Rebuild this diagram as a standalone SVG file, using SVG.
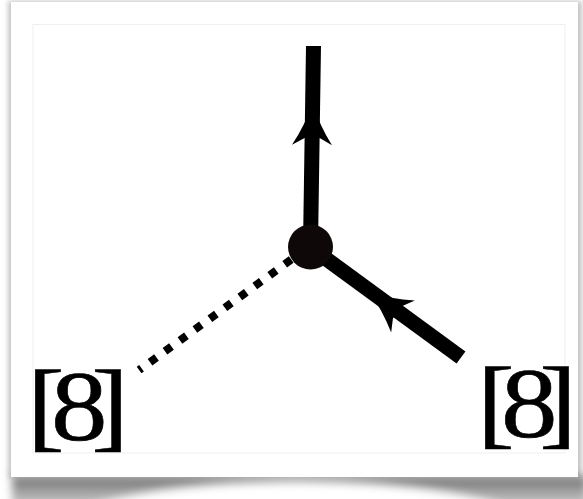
<svg xmlns="http://www.w3.org/2000/svg" width="583" height="499" viewBox="0 0 583 499">
  <defs>
    <filter id="b3" x="-10%" y="-10%" width="120%" height="120%"><feGaussianBlur stdDeviation="2.5"/></filter>
    <filter id="b4" x="-10%" y="-50%" width="120%" height="200%"><feGaussianBlur stdDeviation="4"/></filter>
    <linearGradient id="sg" x1="0" y1="0" x2="0" y2="1">
      <stop offset="0" stop-color="#6f6f6f"/>
      <stop offset="1" stop-color="#cfcfcf"/>
    </linearGradient>
    <path id="ah" d="M0,-42 Q7,-20 20,0 L7.5,-7 L-7.5,-7 L-20,0 Q-7,-20 0,-42 Z"/>
  </defs>
  <style>
    .edge { stroke: #000; stroke-width: 15; fill: none; stroke-linecap: butt; }
    .dots { stroke: #000; stroke-width: 8; fill: none; stroke-dasharray: 8 10.5; }
    .lbl { font-family: "Liberation Serif", "Times New Roman", serif; font-size: 100px; fill: #000; stroke: #000; stroke-width: 0.6; }
  </style>
  <rect width="583" height="499" fill="#fff"/>
  <!-- card shadow -->
  <rect x="8" y="1" width="574" height="477" fill="#c4c4c4" filter="url(#b3)"/>
  <g filter="url(#b4)">
    <rect x="12" y="476" width="575" height="30" fill="url(#sg)"/>
    <ellipse cx="298" cy="528" rx="235" ry="46" fill="#fff"/>
  </g>
  <rect x="11" y="2" width="567" height="475" fill="#fff"/>
  <rect x="33" y="24.5" width="532" height="428.5" fill="none" stroke="#efefef" stroke-width="1"/>

  <g id="connectors">
    <line class="edge" x1="310.5" y1="245" x2="313.5" y2="46"/>
    <line class="edge" x1="310" y1="247" x2="461" y2="357.5"/>
    <line class="dots" x1="291.2" y1="259.6" x2="139.1" y2="370.1"/>
    <use href="#ah" transform="translate(312,145) rotate(0.9)"/>
    <use href="#ah" transform="translate(403,316.5) rotate(-53.7)"/>
  </g>

  <g id="vertex">
    <circle cx="310.5" cy="247" r="22.5" fill="#0f0808"/>
  </g>

  <g id="label-left">
    <text class="lbl" transform="translate(27.1,439) scale(1.13,1)" x="0 21.2 56.8">[8]</text>
  </g>
  <g id="label-right">
    <text class="lbl" transform="translate(477.1,436) scale(1.13,1)" x="0 21.2 55.1">[8]</text>
  </g>
</svg>
